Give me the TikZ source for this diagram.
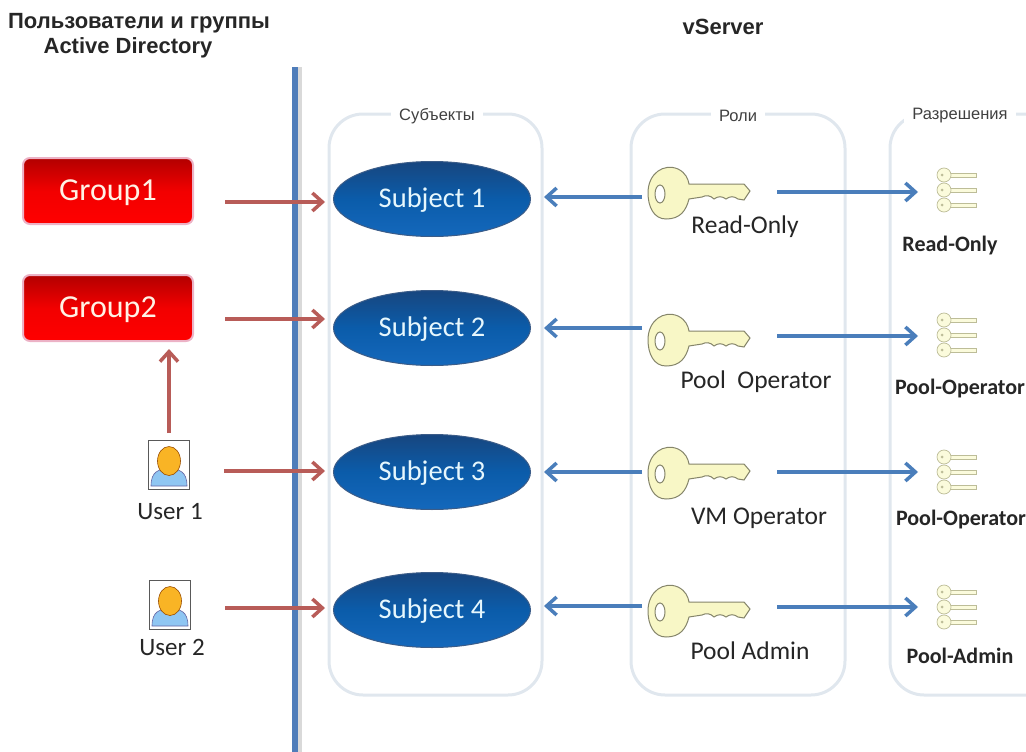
\documentclass[tikz,border=0pt]{standalone}
\usepackage{fontspec}
\setmainfont{Carlito}
\newfontfamily\headfont{Liberation Sans}
\usetikzlibrary{shapes.geometric,arrows.meta}

\definecolor{panelline}{HTML}{E0E7EE}
\definecolor{barblue}{HTML}{4F7DBA}
\definecolor{linkred}{HTML}{B85C58}
\definecolor{linkblue}{HTML}{4A7EBB}
\definecolor{keyfill}{HTML}{F8F7C6}
\definecolor{keyline}{HTML}{85856A}
\definecolor{smallkeyfill}{HTML}{FBFBDC}
\definecolor{smallkeyline}{HTML}{BDBD98}
\definecolor{subjecttop}{HTML}{17467F}
\definecolor{subjectmid}{HTML}{0B5CAA}
\definecolor{subjectlow}{HTML}{1468BC}
\definecolor{subjectrim}{HTML}{3B5C88}
\definecolor{userbody}{HTML}{8FC6F2}
\definecolor{userhead}{HTML}{F9B425}

\tikzset{
  panelbox/.style={draw=panelline,line width=3pt,rounded corners=34pt,fill=white},
  paneltitle/.style={fill=white,inner xsep=8pt,inner ysep=1pt,font=\headfont\fontsize{16.5}{18}\selectfont,text=black!75},
  headtitle/.style={font=\headfont\bfseries\fontsize{22}{25}\selectfont,text=black!85},
  groupbox/.style={draw=blue!25!red!30,line width=2pt,rounded corners=7pt,minimum width=170pt,minimum height=66pt,text depth=2pt,
    top color=red!70!black,bottom color=red,middle color=red!95!black,text=orange!10,font=\fontsize{32}{35}\selectfont},
  subjectnode/.style={ellipse,minimum width=197pt,minimum height=75pt,inner sep=0pt,draw=subjectrim,line width=1pt,text depth=3pt,
    top color=subjecttop,bottom color=subjectlow,middle color=subjectmid,text=cyan!10,font=\fontsize{28.5}{31}\selectfont},
  rolelabel/.style={font=\fontsize{25.5}{28}\selectfont,text=black!85},
  permlabel/.style={font=\bfseries\fontsize{22}{24}\selectfont,text=black!85},
  userlabel/.style={font=\fontsize{25}{28}\selectfont,text=black!85},
  userframe/.style={draw=black!65,line width=1pt,fill=white,minimum width=41pt,minimum height=49pt,inner sep=0pt},
  redlink/.style={draw=linkred,line width=4pt,-{Straight Barb[length=10pt,width=18pt,line width=3.5pt]}},
  bluelink/.style={draw=linkblue,line width=4pt,-{Straight Barb[length=10pt,width=18pt,line width=3.5pt]}},
  keyicon/.pic={
    \path[draw=keyline,fill=keyfill,line width=1pt]
      (-24,0) .. controls (-24,-20) and (-8,-30) .. (6,-24) .. controls (14,-20) and (16,-14) .. (17,-9)
      -- (72,-9) -- (78,-2) -- (72,7) -- (66,6) .. controls (62,3) and (58,3) .. (54,6)
      .. controls (50,3) and (46,3) .. (42,6) .. controls (38,2) and (34,2) .. (30,4) -- (17,6)
      .. controls (14,18) and (8,26) .. (-6,26) .. controls (-18,26) and (-24,14) .. (-24,0) -- cycle;
    \path[draw=keyline,fill=white,line width=1pt] (-12,1) ellipse (5pt and 9pt);
  },
  smallkey/.pic={
    \path[draw=smallkeyline,fill=smallkeyfill,line width=.7pt] (5,-2) -- (32,-2) -- (32,2) -- (5,2);
    \path[draw=smallkeyline,fill=smallkeyfill,line width=.7pt] (0,0) circle (7pt);
    \path[fill=smallkeyline] (-2,0) circle (1.5pt);
  },
  usericon/.pic={
    \path[fill=userbody,draw=blue!40!black!60,line width=.6pt] (-18,21) .. controls (-18,6) and (-10,4) .. (0,4)
      .. controls (10,4) and (18,6) .. (18,21) -- cycle;
    \path[fill=userhead,draw=orange!60!black,line width=.6pt] (0,-4) ellipse (11.5pt and 14.5pt);
  }
}

\begin{document}
\begin{tikzpicture}[x=1pt,y=-1pt]
\useasboundingbox (0,0) rectangle (1026,752);

\node[headtitle] (adtitle1) at (139,23) {Пользователи и группы};
\node[headtitle] (adtitle2) at (128,48) {Active Directory};
\node[headtitle] (vstitle) at (723,27) {vServer};

\fill[black!15] (298,67) rectangle (302,752);
\fill[barblue] (292,67) rectangle (298,752);

\draw[panelbox] (329,114) rectangle (542,695);
\draw[panelbox] (631,114) rectangle (845,695);
\draw[panelbox] (890,114) rectangle (1060,695);
\node[paneltitle] (subjecttitle) at (437,116) {Субъекты};
\node[paneltitle] (roletitle) at (738,116) {Роли};
\node[paneltitle] (permtitle) at (960,116) {Разрешения};

\node[groupbox] (group1) at (108,191) {Group1};
\node[groupbox] (group2) at (108,308) {Group2};

\node[userframe] (user1) at (169,465) {};
\pic at (169,465) {usericon};
\node[userlabel] (user1label) at (170,512) {User 1};
\node[userframe] (user2) at (170,605) {};
\pic at (170,605) {usericon};
\node[userlabel] (user2label) at (172,647) {User 2};

\node[subjectnode] (subject1) at (432,199) {Subject 1};
\node[subjectnode] (subject2) at (432,328) {Subject 2};
\node[subjectnode] (subject3) at (432,472) {Subject 3};
\node[subjectnode] (subject4) at (432,610) {Subject 4};

\coordinate (key1) at (672,193);
\coordinate (key2) at (672,340);
\coordinate (key3) at (672,473);
\coordinate (key4) at (672,611);
\pic at (key1) {keyicon};
\pic at (key2) {keyicon};
\pic at (key3) {keyicon};
\pic at (key4) {keyicon};
\node[rolelabel] (role1) at (745,227) {Read-Only};
\node[rolelabel] (role2) at (756,382) {Pool\ \ Operator};
\node[rolelabel] (role3) at (759,518) {VM Operator};
\node[rolelabel] (role4) at (750,651) {Pool Admin};

\coordinate (perm1) at (944,190);
\coordinate (perm2) at (944,335);
\coordinate (perm3) at (944,472);
\coordinate (perm4) at (944,607);
\pic at ([yshift=15pt]perm1) {smallkey};
\pic at (perm1) {smallkey};
\pic at ([yshift=-15pt]perm1) {smallkey};
\pic at ([yshift=15pt]perm2) {smallkey};
\pic at (perm2) {smallkey};
\pic at ([yshift=-15pt]perm2) {smallkey};
\pic at ([yshift=15pt]perm3) {smallkey};
\pic at (perm3) {smallkey};
\pic at ([yshift=-15pt]perm3) {smallkey};
\pic at ([yshift=15pt]perm4) {smallkey};
\pic at (perm4) {smallkey};
\pic at ([yshift=-15pt]perm4) {smallkey};
\node[permlabel] (permlabel1) at (950,246) {Read-Only};
\node[permlabel] (permlabel2) at (960,389) {Pool-Operator};
\node[permlabel] (permlabel3) at (961,520) {Pool-Operator};
\node[permlabel] (permlabel4) at (960,656) {Pool-Admin};

\draw[redlink,shorten <=31pt,shorten >=8pt] ([yshift=-11pt]group1.east) -- ([yshift=-3pt]subject1.west);
\draw[redlink,shorten <=31pt,shorten >=8pt] ([yshift=-11pt]group2.east) -- ([yshift=9pt]subject2.west);
\draw[redlink,shorten <=34pt,shorten >=8pt] ([yshift=-6pt]user1.east) -- ([yshift=1pt]subject3.west);
\draw[redlink,shorten <=34pt,shorten >=8pt] ([yshift=-3pt]user2.east) -- ([yshift=2pt]subject4.west);
\draw[redlink,shorten <=7pt,shorten >=7pt] (user1.north) -- (user1.north |- group2.south);

\draw[bluelink,shorten <=30pt,shorten >=13pt] ([yshift=-4pt]key1) -- ([yshift=2pt]subject1.east);
\draw[bluelink,shorten <=30pt,shorten >=13pt] ([yshift=12pt]key2) -- (subject2.east);
\draw[bluelink,shorten <=30pt,shorten >=13pt] ([yshift=1pt]key3) -- (subject3.east);
\draw[bluelink,shorten <=30pt,shorten >=13pt] ([yshift=5pt]key4) -- ([yshift=4pt]subject4.east);
\draw[bluelink,shorten <=105pt,shorten >=26pt] ([yshift=1pt]key1) -- ([yshift=-2pt]perm1);
\draw[bluelink,shorten <=105pt,shorten >=26pt] ([yshift=4pt]key2) -- ([yshift=-1pt]perm2);
\draw[bluelink,shorten <=105pt,shorten >=26pt] ([yshift=1pt]key3) -- (perm3);
\draw[bluelink,shorten <=105pt,shorten >=26pt] ([yshift=4pt]key4) -- (perm4);
\end{tikzpicture}
\end{document}
